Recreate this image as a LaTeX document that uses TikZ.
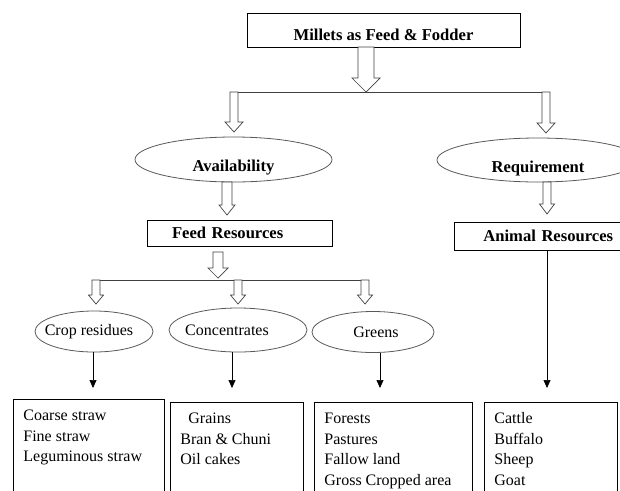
\documentclass[tikz,border=0pt]{standalone}
\usepackage{fontspec}
\setmainfont{Liberation Serif}
\usepackage{tikz}
\usetikzlibrary{calc,shapes.geometric,arrows.meta}
\newcommand{\boxfont}{\fontsize{16pt}{20.5pt}\selectfont}
\newcommand{\headfont}{\fontsize{16.6pt}{20.5pt}\selectfont\bfseries}

\begin{document}
\begin{tikzpicture}[x=1pt, y=-1pt,
  every node/.style={font=\boxfont},
  headbox/.style={draw, line width=0.8pt, inner sep=0pt, font=\headfont},
  oval/.style={ellipse, draw=black!65, line width=0.8pt, inner sep=0pt},
  listbox/.style={draw, line width=0.8pt, anchor=north west, inner xsep=10pt, inner ysep=7pt},
  hollow/.style n args={3}{draw=black!75, fill=white, line width=0.7pt,
    to path={let \p1=(\tikztostart), \p2=(\tikztotarget) in
      (\x1-#1pt,\y1) -- (\x1+#1pt,\y1) -- (\x1+#1pt,\y2+#3pt) -- (\x1+#2pt,\y2+#3pt)
      -- (\x1,\y2) -- (\x1-#2pt,\y2+#3pt) -- (\x1-#1pt,\y2+#3pt) -- cycle}},
  branch/.style={draw=black!75, line width=1pt},
  down/.style={-{Triangle[length=8pt,width=7pt]}, line width=0.7pt}]
\useasboundingbox (0,0) rectangle (620,490);
\clip (0,0) rectangle (620,490);

\node[headbox, minimum width=273pt, minimum height=34pt, text height=27.3pt, text depth=6.7pt] (fodder) at (383.5,30) {Millets as Feed \& Fodder};

\node[oval, font=\headfont, minimum width=197pt, minimum height=45pt, text height=24pt, text depth=0pt] (avail) at (233.5,159.5) {Availability};
\node[oval, font=\headfont, minimum width=202pt, minimum height=44pt, text height=24pt, text depth=0pt] (req) at (538,160) {Requirement};

\node[headbox, minimum height=26pt, inner xsep=25pt, text width=135pt, align=left] (feed) at (239.5,233) {Feed Resources};
\node[headbox, minimum height=28pt, inner xsep=29pt, text width=150pt, align=left, anchor=west] (animal) at (454,236) {Animal Resources};

\node[oval, minimum width=118pt, minimum height=41pt] (cropres) at (94,331.5) {\hspace*{-10pt}Crop residues};
\node[oval, minimum width=138pt, minimum height=44pt] (conc) at (238,330) {\hspace*{-22pt}Concentrates};
\node[oval, minimum width=122pt, minimum height=41pt] (greens) at (373,332) {\hspace*{6pt}Greens};

\node[listbox] (croplist) at (13,399) {\parbox[t][100pt][t]{131pt}{\strut Coarse straw\\Fine straw\\Leguminous straw}};
\node[listbox] (conclist) at (170,402) {\parbox[t][100pt][t]{113pt}{\strut\hspace*{8pt}Grains\\Bran \& Chuni\\Oil cakes}};
\node[listbox] (greenlist) at (314,402) {\parbox[t][100pt][t]{138pt}{\strut Forests\\Pastures\\Fallow land\\Gross Cropped area}};
\node[listbox] (animlist) at (484,402) {\parbox[t][100pt][t]{113pt}{\strut Cattle\\Buffalo\\Sheep\\Goat}};

\coordinate (fodout) at (366,47);
\coordinate (fodtip) at (366,92);
\coordinate (availin) at (234,92);
\coordinate (reqin) at (546,92);
\coordinate (availtip) at (234,132);
\coordinate (reqtip) at (546,133);
\coordinate (feedin) at (227,182);
\coordinate (feedtip) at (227,215);
\coordinate (animin) at (547,182);
\coordinate (animtop) at (547,214);
\coordinate (feedout) at (218,252);
\coordinate (feedsplit) at (218,278);
\coordinate (cropin) at (96,280);
\coordinate (concin) at (238,280);
\coordinate (greenin) at (365,280);
\coordinate (cropcap) at (96,304);
\coordinate (conccap) at (238,304);
\coordinate (greencap) at (365,304);
\coordinate (croptip) at (93,388);
\coordinate (conctip) at (232,388);
\coordinate (greentip) at (380,388);
\coordinate (animtip) at (547,388);

\draw[branch] ([xshift=-4pt]availin) -- ([xshift=4pt]reqin);
\draw[hollow={8}{14}{14}] (fodout) to (fodtip);
\draw[hollow={4}{9}{10}] (availin) to (availtip);
\draw[hollow={4}{9}{10}] (reqin) to (reqtip);
\draw[hollow={5}{8}{10}] (feedin) to (feedtip);
\draw[hollow={4}{7.5}{10}] (animin) to (animtop);

\draw[branch] ([xshift=-4pt]cropin) -- ([xshift=4pt]greenin);
\draw[hollow={5}{10}{10}] (feedout) to (feedsplit);
\draw[hollow={4}{7.5}{9}] (cropin) to (cropcap);
\draw[hollow={4}{7.5}{9}] (concin) to (conccap);
\draw[hollow={4}{7.5}{9}] (greenin) to (greencap);

\draw[down] (croptip |- cropres.south) -- (croptip);
\draw[down] (conctip |- conc.south) -- (conctip);
\draw[down] (greentip |- greens.south) -- (greentip);
\draw[down] (animtip |- animal.south) -- (animtip);
\end{tikzpicture}
\end{document}
